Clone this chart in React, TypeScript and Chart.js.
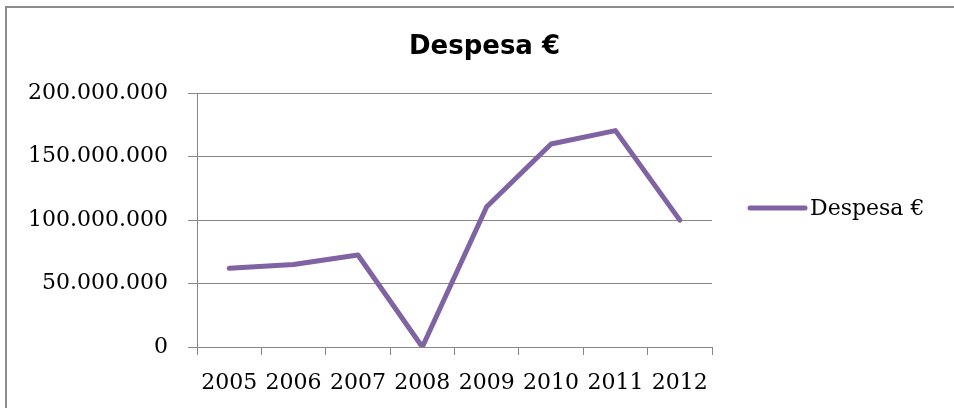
import React, { useEffect, useRef } from "react";
import { Chart, registerables } from "chart.js";

Chart.register(...registerables);

const categories = ["2005", "2006", "2007", "2008", "2009", "2010", "2011", "2012"];
const despesa = [62000000, 65000000, 72500000, 0, 110500000, 160000000, 170500000, 100000000];
const seriesLabel = "Despesa €";
const titleText = "Despesa €";
const yMin = 0;
const yMax = 200000000;
const yStep = 50000000;

const fmt = (v: number) => String(Math.round(v)).replace(/\B(?=(\d{3})+(?!\d))/g, ".");

const GRAY = "#888888";
const PURPLE = "#7f63a2";
const SERIF = "'DejaVu Serif', serif";

const legendPlugin = {
  id: "customLegend",
  afterDraw(chart: any) {
    const ctx = chart.ctx;
    const ds = chart.data.datasets[0];
    const x0 = chart.chartArea.right + 38;
    const y = 208;
    ctx.save();
    ctx.strokeStyle = ds.borderColor;
    ctx.lineWidth = 5;
    ctx.lineCap = "round";
    ctx.beginPath();
    ctx.moveTo(x0, y);
    ctx.lineTo(x0 + 55, y);
    ctx.stroke();
    ctx.fillStyle = "#000";
    ctx.font = `22px ${SERIF}`;
    ctx.textBaseline = "middle";
    ctx.textAlign = "left";
    ctx.fillText(ds.label, x0 + 60, y + 1);
    ctx.restore();
  },
};

export default function App() {
  const ref = useRef<HTMLCanvasElement>(null);
  useEffect(() => {
    if (!ref.current) return;
    const chart = new Chart(ref.current, {
      type: "line",
      data: {
        labels: categories,
        datasets: [
          {
            label: seriesLabel,
            data: despesa,
            borderColor: PURPLE,
            backgroundColor: PURPLE,
            borderWidth: 5,
            pointRadius: 0,
            tension: 0,
            borderCapStyle: "round",
            borderJoinStyle: "round",
            yAxisID: "y",
          },
        ],
      },
      plugins: [legendPlugin],
      options: {
        animation: false,
        responsive: false,
        maintainAspectRatio: false,
        layout: { padding: { left: 15, right: 0, top: 0, bottom: 0 } },
        plugins: {
          legend: { display: false },
          tooltip: { enabled: false },
          title: {
            display: true,
            text: titleText,
            color: "#000",
            font: { family: "'DejaVu Sans', sans-serif", size: 26, weight: "bold" },
            padding: { top: 32, bottom: 30 },
          },
        },
        scales: {
          x: {
            type: "category",
            offset: true,
            grid: {
              offset: true,
              drawOnChartArea: false,
              drawTicks: true,
              tickLength: 8,
              color: GRAY,
              lineWidth: 1,
            },
            border: { display: true, color: GRAY, width: 1 },
            ticks: {
              color: "#000",
              font: { family: SERIF, size: 22 },
              padding: 15,
              maxRotation: 0,
              autoSkip: false,
            },
            afterFit(scale: any) {
              scale.height = 408 - 347;
            },
          },
          y: {
            type: "linear",
            position: "left",
            min: yMin,
            max: yMax,
            ticks: {
              stepSize: yStep,
              color: "#000",
              font: { family: SERIF, size: 22 },
              padding: 20,
              callback: (v: any) => fmt(Number(v)),
            },
            grid: { color: GRAY, lineWidth: 1, tickLength: 9, drawTicks: true },
            border: { display: true, color: GRAY, width: 1 },
            afterFit(scale: any) {
              scale.width = 197 - 15;
            },
          },
          y2: {
            type: "linear",
            position: "right",
            display: true,
            grid: { display: false, drawOnChartArea: false, drawTicks: false },
            border: { display: false },
            ticks: { display: false },
            afterFit(scale: any) {
              scale.width = 954 - 712;
            },
          },
        },
      },
    } as any);
    return () => chart.destroy();
  }, []);

  return (
    <div style={{ position: "absolute", left: 0, top: 0, width: 954, height: 408, overflow: "hidden", background: "#fff" }}>
      <div
        style={{
          position: "absolute",
          left: 5,
          top: 6,
          width: 1200,
          height: 800,
          border: "2px solid #8c8c8c",
          boxSizing: "border-box",
        }}
      />
      <canvas ref={ref} width={954} height={408} style={{ position: "absolute", left: 0, top: 0, width: 954, height: 408 }} />
    </div>
  );
}
